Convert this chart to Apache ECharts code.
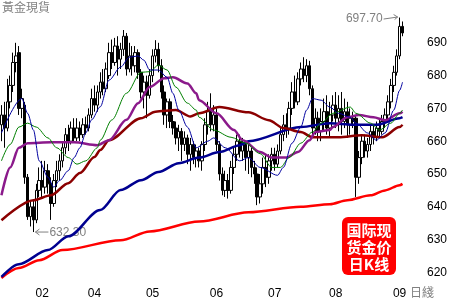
<!DOCTYPE html>
<html>
<head>
<meta charset="utf-8">
<script src="https://cdn.jsdelivr.net/npm/echarts@6/dist/echarts.min.js"></script>
<style>html,body{margin:0;padding:0;background:#fff}#c{width:450px;height:300px}</style>
</head>
<body>
<div id="c"></div>
<script>
// Daily candles: [open, close, low, high]
const ohlc = [
[665,668,660,671],[668,664,658,672],[664,672,663,679],[672,677,670,680],[677,684,675,687],
[684,686,681,690],[687,670,668,689],[670,673,667,676],[671,649,647,672],[649,637,636,650],
[637,640,634,642],[640,636,632.3,642],[636,645,635,647],[645,648,643,652],[648,646,643,654],
[646,651,644,654],[651,647,644,653],[647,641,636,649],[641,648,640,650],[648,651,646,654],
[651,654,648,656],[654,658,652,660],[658,662,656,664],[662,660,657,665],[660,664,659,666],
[664,661,660,667],[661,664,660,667],[664,662,660,666],[662,665,661,667],[665,664,662,667.5],
[664,668,663,670],[668,673,667,676],[673,671,669,677],[671,675,669,677],[675,678,673,681],
[678,676,674,682],[676,682,675,684],[680,687,679,690],[687,684,682,691],[684,689,683,691.5],
[689,685,680,692],[685,688,682,690],[688,692,686,693.9],[692,682,680,693],[682,686,681,690],
[686,683,680,689],[683,687,681,689],[687,681,679,688],[681,675,673,682],[675,678,670,680],
[678,674,667,680],[674,680,673,682],[680,686,678,688],[686,688,684,690.8],[688,683,681,690],
[683,675,673,685],[675,668,665,677],[668,672,664,673],[672,666,664,673],[666,664,662,668],
[664,661,659,666],[661,663,657,665],[663,659,654,664],[659,661,657,663],[661,656,653,662],
[656,659,651,661],[659,655,653,660],[655,657,652,659],[657,654,652,658],[654,659,651,660],
[659,665,657,667],[665,669,662,672],[669,665,663,674.6],[665,668,663,671],[668,659,657,670],
[659,650,648,660],[650,645,643.5,652],[645,648,643,651],[648,645,642.5,650],[645,652,644,654],
[652,656,650,658],[656,660,654,662],[660,657,655,662],[657,659,654,661],[659,655,651,660],
[655,657,650,660],[657,652,649,658],[652,650,647,654],[650,643,640.5,652],[643,647,641,650],
[647,652,644,655],[652,649,646,656],[649,654,647,656],[654,656,651,658],[656,653,651,658],
[653,657,652,659],[657,662,656,664],[662,665,660,668],[665,664,661,668.5],[664,670,662,672],
[670,675,668,678],[675,672,670,680],[672,679,671,681],[679,682,677,684],[682,680,678,685.6],
[680,683,678,685],[683,676,674,684.5],[676,664,662,677],[664,667,662,670],[667,663,660,669],
[663,666,660,670],[666,669,663,673],[669,664,662,674],[664,668,661,672],[668,671,666,674],
[671,667,664,675],[667,670,663,674],[670,666,662,675],[666,669,664,673],[669,665,661,672],
[665,667,662,670],[667,666,664,669],[667,649,643,668],[649,655,647,657],[655,660,653,662],
[660,657,655,662],[657,659,655,661],[659,663,657,665],[663,661,659,665],[661,664,660,666],
[664,663,661,667],[663,666,662,668],[666,668,664,670],[668,672,666,674],[672,677,670,679],
[677,681,675,683],[681,686,680,688],[686,695,685,697.7],[695,693,692,696.5]
];
// Moving averages: [dayIndex, value]
const ma5 = [[0,662.5],[7,673],[9,668.5],[11,663.4],[13,654],[16,649],[18,646],[20,648],[23,651],[25,655],[27,658],[29,662.5],[31,666.5],[34,670.5],[37,678.6],[41,682.6],[44,685.6],[47,686],[49,684.7],[51,681.7],[54,681.7],[57,679.5],[59,674.6],[61,669.5],[64,664.3],[67,658],[71,660],[73,661],[77,658],[82,654],[85,655],[89,652],[95,649.6],[97,652],[100,659.4],[103,664.3],[105,669.5],[107,673],[110,672.5],[113,670.4],[116,668.5],[120,667.3],[122,665.5],[126,662.5],[129,660.3],[132,662.5],[135,669.5],[137,675.5],[138,678]];
const ma10 = [[0,654],[3,659],[6,664.3],[9,665.5],[12,664.3],[16,661],[19,658],[23,655],[26,653],[29,654],[33,658],[34,660.3],[38,666.5],[43,674.6],[48,681],[51,681.2],[54,683.2],[57,681.7],[60,676.5],[64,671.6],[67,669.5],[68,667.3],[73,663.4],[79,661.2],[84,659.4],[89,656.2],[93,652],[96,652],[99,655],[103,659.4],[107,662.8],[110,665.5],[114,668.5],[120,670.4],[122,668.5],[127,665.5],[130,663.4],[134,665.5],[137,668.5],[138,669.5]];
const ma20 = [[0,643.5],[3,652],[6,658],[9,659.4],[17,659.7],[25,659.7],[33,658.8],[37,660.3],[43,666.5],[47,671.6],[51,676.5],[56,679.2],[59,679.5],[64,677.6],[67,674.6],[68,672.5],[74,668.5],[80,663.4],[83,660.3],[89,656.7],[93,655],[98,655],[102,656.7],[106,660.3],[108,662.8],[113,663.4],[114,664.3],[119,667.3],[123,668],[128,667.3],[132,666.4],[137,668.5],[138,669]];
const ma60 = [[0,635.9],[11,642],[17,643.5],[23,647.2],[27,650.3],[32,655.2],[34,657.3],[37,660.3],[48,667],[53,669],[60,669.5],[65,667.5],[68,668.5],[75,670.4],[85,668.8],[92,666.4],[97,664],[103,662.8],[107,661.2],[116,661.2],[124,661.8],[131,661.2],[137,664.3],[138,665]];
const ma120 = [[0,618.6],[6,622.5],[16,626.8],[23,631],[34,639],[41,645.1],[48,648.1],[54,650.6],[61,653.3],[68,655],[75,656.7],[82,658.8],[85,660],[103,664.3],[113,665.5],[121,665],[129,665],[137,667],[138,667.3]];
const ma250 = [[0,618.3],[6,621.3],[13,623.7],[21,626.8],[41,629.8],[51,632.5],[68,635.5],[85,638.3],[103,640],[113,640.8],[119,642],[127,643.5],[132,645],[137,646.6],[138,647]];
const monthLabels = ['02','04','05','06','07','08','09'];
const monthLabelIdx = [14,32,52,74,94,115,137];
const yTicks = [620,630,640,650,660,670,680,690];
const highNote = {idx:137, value:697.7, text:'697.70'};
const lowNote = {idx:11, value:632.3, text:'632.30'};

const categories = ohlc.map((d,i)=>String(i));
const chart = echarts.init(document.getElementById('c'), null, {renderer:'canvas'});
function maSeries(data, color, width){
  return {type:'line', data:data, symbol:'none', smooth:0.3, smoothMonotone:'x', silent:true,
    lineStyle:{color:color, width:width}, z:3, animation:false};
}
chart.setOption({
  animation:false,
  backgroundColor:'#fff',
  grid:{left:0, right:45, top:10, bottom:14.5, containLabel:false},
  xAxis:{type:'category', data:categories, boundaryGap:true,
    axisLine:{show:false}, axisTick:{show:false}, splitLine:{show:false},
    axisLabel:{interval:function(i){return monthLabelIdx.indexOf(i)>=0;},
      formatter:function(v,i){const k=monthLabelIdx.indexOf(i);return k>=0?monthLabels[k]:'';},
      color:'#000', fontSize:12, fontFamily:'Liberation Sans', margin:2, hideOverlap:false}},
  yAxis:{type:'value', position:'right', min:616, max:700, scale:true,
    axisLine:{show:false}, axisTick:{show:false}, splitLine:{show:false},
    axisLabel:{customValues:yTicks, color:'#000', fontSize:12, fontFamily:'Liberation Sans', margin:23, align:'left'}},
  series:[
    {type:'candlestick', data:ohlc, barWidth:3, z:2,
      itemStyle:{color:'#fff', color0:'#000', borderColor:'#000', borderColor0:'#000', borderWidth:1}},
    maSeries(ma250,'#ff0000',2.5),
    maSeries(ma120,'#000090',2.5),
    maSeries(ma60,'#8b0000',2.5),
    maSeries(ma20,'#8b1a8b',2.5),
    maSeries(ma10,'#008000',1),
    maSeries(ma5,'#0000a0',1)
  ]
});
const ph = chart.convertToPixel({xAxisIndex:0,yAxisIndex:0},[highNote.idx, highNote.value]);
const pl = chart.convertToPixel({xAxisIndex:0,yAxisIndex:0},[lowNote.idx, lowNote.value]);
const gray = '#808080';
chart.setOption({graphic:[
  {type:'text', left:2, top:1, style:{text:'黃金現貨', fill:gray, font:'12px "Noto Sans CJK TC"'}},
  {type:'text', left:410, top:286, style:{text:'日綫', fill:gray, font:'12px "Noto Sans CJK TC"'}},
  {type:'text', x:ph[0]-17, y:ph[1]+1.5, style:{text:highNote.text, fill:gray, font:'12px "Liberation Sans"', align:'right', verticalAlign:'middle'}},
  {type:'line', shape:{x1:ph[0]-16, y1:ph[1]+1.5, x2:ph[0]-2, y2:ph[1]-0.5}, style:{stroke:gray, lineWidth:1}},
  {type:'polyline', shape:{points:[[ph[0]-6,ph[1]-3],[ph[0]-2,ph[1]-0.5],[ph[0]-5,ph[1]+2]]}, style:{stroke:gray, lineWidth:1, fill:null}},
  {type:'line', shape:{x1:pl[0]+2, y1:pl[1], x2:pl[0]+15, y2:pl[1]}, style:{stroke:gray, lineWidth:1}},
  {type:'polyline', shape:{points:[[pl[0]+6,pl[1]-3],[pl[0]+2,pl[1]],[pl[0]+6,pl[1]+3]]}, style:{stroke:gray, lineWidth:1, fill:null}},
  {type:'text', x:pl[0]+16, y:pl[1]+0.5, style:{text:lowNote.text, fill:gray, font:'12px "Liberation Sans"', align:'left', verticalAlign:'middle'}},
  {type:'group', left:342, top:217, children:[
    {type:'rect', shape:{x:0,y:0,width:54,height:58,r:6}, style:{fill:'#ff0000'}},
    {type:'text', x:27, y:13, style:{text:'国际现', fill:'#fff', font:'bold 15px "Noto Sans CJK SC"', align:'center', verticalAlign:'middle'}},
    {type:'text', x:27, y:30, style:{text:'货金价', fill:'#fff', font:'bold 15px "Noto Sans CJK SC"', align:'center', verticalAlign:'middle'}},
    {type:'text', x:27, y:47, style:{text:'日K线', fill:'#fff', font:'bold 15px "Noto Sans CJK SC"', align:'center', verticalAlign:'middle'}}
  ]}
]});
</script>
</body>
</html>
